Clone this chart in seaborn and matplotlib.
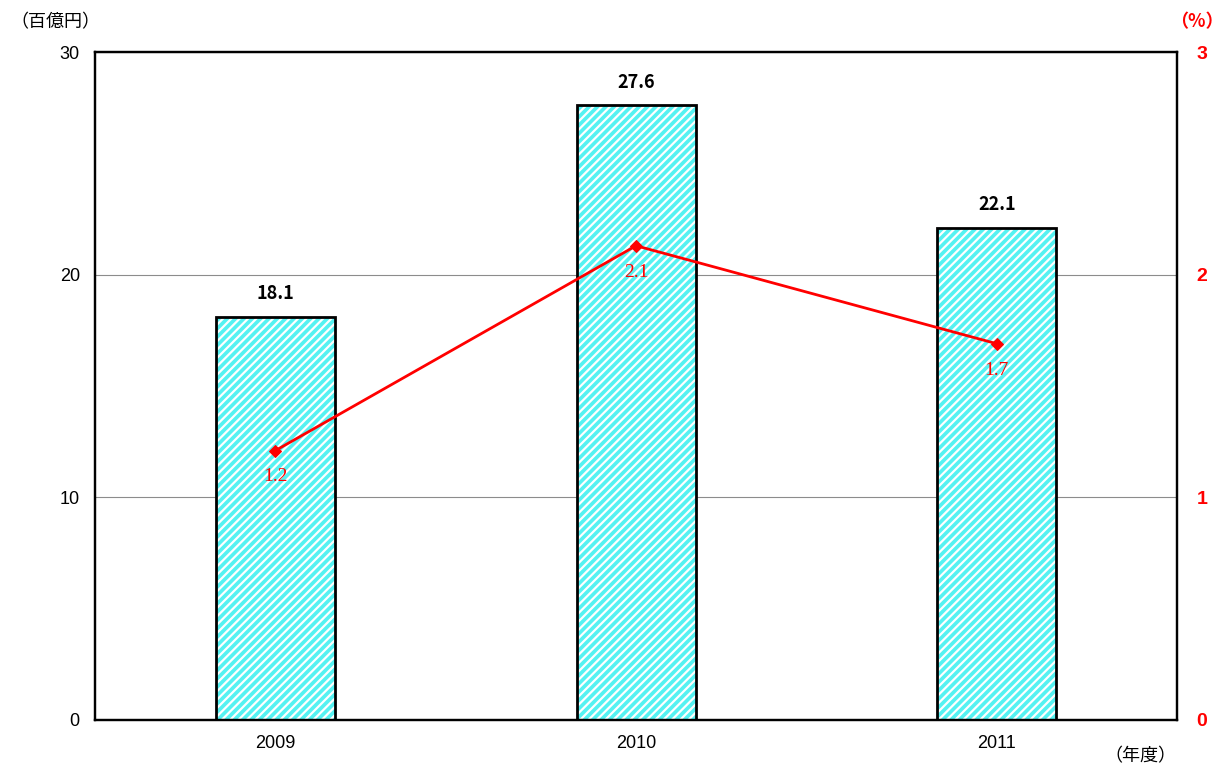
import matplotlib
matplotlib.use('Agg')
import matplotlib.pyplot as plt
import seaborn as sns
import pandas as pd

years = ['2009', '2010', '2011']
amount = [18.1, 27.6, 22.1]        # 百億円
ratio = [1.21, 2.13, 1.69]          # %
ratio_labels = ['1.2', '2.1', '1.7']

sns.set_style('white')
plt.rcParams['font.family'] = ['Noto Sans CJK JP', 'DejaVu Sans']
plt.rcParams['hatch.linewidth'] = 1.6
plt.rcParams['text.color'] = 'black'

df = pd.DataFrame({'year': years, 'amount': amount, 'ratio': ratio})

fig = plt.figure(figsize=(12.28, 7.64), dpi=100)
ax = fig.add_axes([0.0774, 0.0576, 0.8811, 0.8743])

# hatched fill, then black outline
sns.barplot(data=df, x='year', y='amount', color='#55F2F2', width=0.33,
            saturation=1, ax=ax, zorder=2)
for p in ax.patches:
    p.set_hatch('////')
    p.set_edgecolor('white')
    p.set_linewidth(0)
sns.barplot(data=df, x='year', y='amount', color='black', fill=False,
            width=0.33, linewidth=2.0, ax=ax, zorder=3)

ax.set_ylim(0, 30)
ax.set_xlim(-0.5, 2.5)
ax.set_yticks([0, 10, 20, 30])
ax.grid(axis='y', color='#8c8c8c', linewidth=0.8, zorder=0)
ax.set_axisbelow(True)
ax.set_xlabel('')
ax.set_ylabel('')
ax.tick_params(length=0, labelsize=13, pad=11, labelcolor='black')
for lab in ax.get_xticklabels() + ax.get_yticklabels():
    lab.set_family(['Liberation Sans', 'DejaVu Sans'])
for s in ax.spines.values():
    s.set_linewidth(1.6)
    s.set_color('black')

for i, v in enumerate(amount):
    ax.annotate(f'{v:.1f}', (i, v), xytext=(0, 10), textcoords='offset points',
                ha='center', va='bottom', fontsize=13, fontweight='bold',
                color='black', family=['Noto Sans CJK JP', 'DejaVu Sans'])

ax2 = ax.twinx()
sns.lineplot(x=list(range(len(years))), y=ratio, ax=ax2, color='red',
             linewidth=2.0, marker='D', markersize=6, markeredgecolor='red')
ax2.set_ylim(0, 3)
ax2.set_yticks([0, 1, 2, 3])
ax2.tick_params(length=0, labelsize=14, labelcolor='red', pad=14)
for lab in ax2.get_yticklabels():
    lab.set_fontweight('bold')
    lab.set_family(['Liberation Sans', 'DejaVu Sans'])
for s in ax2.spines.values():
    s.set_linewidth(1.6)
    s.set_color('black')
for i, (v, t) in enumerate(zip(ratio, ratio_labels)):
    ax2.annotate(t, (i, v), xytext=(0, -19), textcoords='offset points',
                 ha='center', va='center', fontsize=14, color='red',
                 family=['Liberation Serif', 'DejaVu Serif'])

fig.text(10 / 1228, 1 - 22 / 764, '（百億円）', ha='left', va='center', fontsize=13)
fig.text(1224 / 1228, 1 - 22 / 764, '（%）', ha='right', va='center', fontsize=13,
         color='red', fontweight='bold')
fig.text(1176 / 1228, 1 - 756 / 764, '（年度）', ha='right', va='center', fontsize=13)

fig.savefig('out.png', dpi=100)
